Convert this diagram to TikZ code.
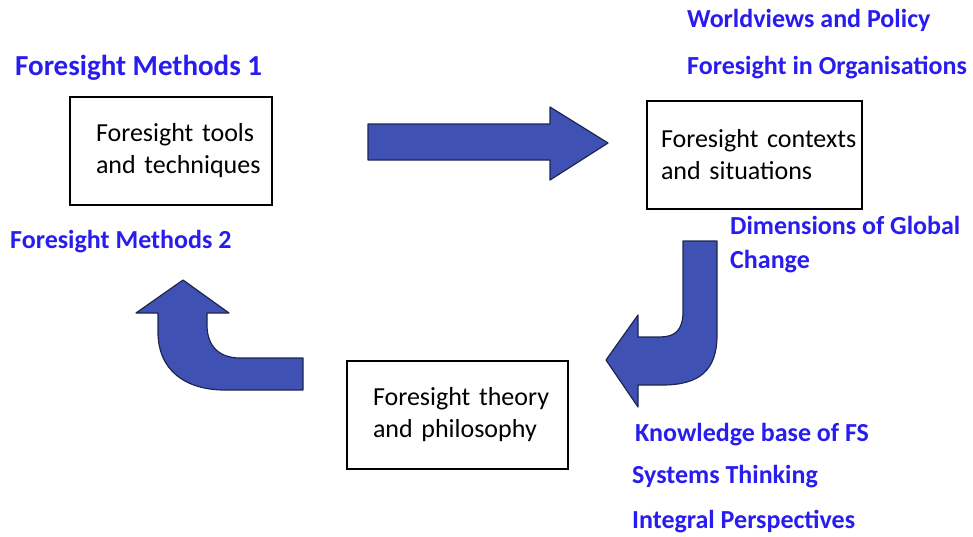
\documentclass[tikz,border=0pt]{standalone}
\usepackage{fontspec}
\setmainfont{Carlito}
\definecolor{labelblue}{RGB}{40,28,238}
\definecolor{arrowfill}{RGB}{63,82,180}
\definecolor{arrowedge}{RGB}{30,38,80}
\tikzset{
  stagebox/.style={draw=black, line width=2pt, fill=white, align=left,
    minimum height=108pt, inner ysep=0pt,
    font=\fontsize{26}{32}\selectfont},
  topiclabel/.style={anchor=west, inner sep=0pt, text=labelblue,
    font=\fontsize{26}{30}\selectfont\bfseries},
  blockarrow/.style={fill=arrowfill, draw=arrowedge, line width=1.2pt, line join=round}
}
\begin{document}
\begin{tikzpicture}[x=1pt, y=-1pt]
    \useasboundingbox (0,0) rectangle (973,536);
    % the three stages
    \node[stagebox, text width=150pt, inner xsep=26pt] (Tools) at (171,151)
        {\mbox{Foresight tools}\\\mbox{and techniques}};
    \node[stagebox, text width=187pt, inner xsep=14pt] (Contexts) at (754.5,155)
        {\mbox{Foresight contexts}\\\mbox{and situations}};
    \node[stagebox, text width=169pt, inner xsep=26pt] (Theory) at (457.5,415)
        {\mbox{Foresight theory}\\\mbox{and philosophy}};
    % block arrows between the stages
    \draw[blockarrow] (368,124) -- (550,124) -- (550,107) -- (608,143)
        -- (550,180) -- (550,160) -- (368,160) -- cycle;
    \draw[blockarrow] (683,241) -- (717,241) -- (717,335)
        .. controls (717,370) and (700,385) .. (662,385) -- (638,385)
        -- (638,407) -- (606,360) -- (638,315) -- (638,337) -- (660,337)
        .. controls (675,337) and (683,330) .. (683,312) -- cycle;
    \draw[blockarrow] (303,358) -- (240,358)
        .. controls (218,358) and (207,345) .. (207,325) -- (207,313)
        -- (229,313) -- (183,280) -- (136,313) -- (158,313) -- (158,332)
        .. controls (158,370) and (185,390) .. (225,390) -- (303,390) -- cycle;
    % course labels
    \node[topiclabel] (Worldviews) at (687,20) {Worldviews and Policy};
    \node[topiclabel] (Organisations) at (687,68) {Foresight in Organisations};
    \node[topiclabel, font=\fontsize{29}{34}\selectfont\bfseries] (MethodsOne) at (15,68) {Foresight Methods 1};
    \node[topiclabel] (MethodsTwo) at (10,242) {Foresight Methods 2};
    \node[topiclabel, align=left, font=\fontsize{26}{34}\selectfont\bfseries] (Global) at (730,245)
        {Dimensions of Global\\Change};
    \node[topiclabel] (Knowledge) at (635,435) {Knowledge base of FS};
    \node[topiclabel] (Systems) at (632,477) {Systems Thinking};
    \node[topiclabel] (Integral) at (632,522) {Integral Perspectives};
\end{tikzpicture}
\end{document}
